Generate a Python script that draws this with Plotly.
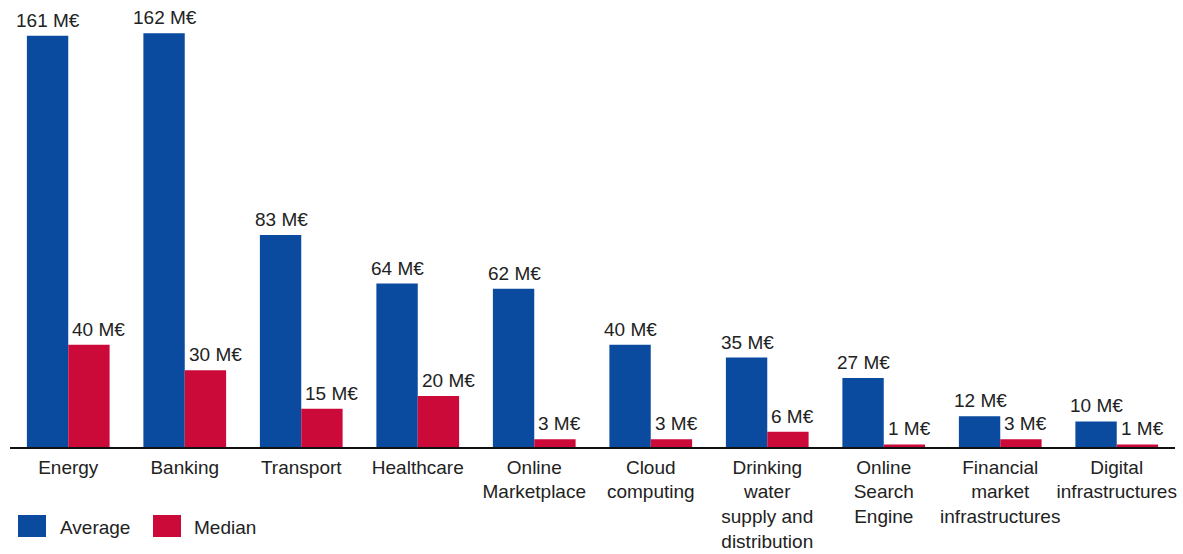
import plotly.graph_objects as go

categories = ["Energy", "Banking", "Transport", "Healthcare", "Online<br>Marketplace",
              "Cloud<br>computing", "Drinking<br>water<br>supply and<br>distribution",
              "Online<br>Search<br>Engine", "Financial<br>market<br>infrastructures",
              "Digital<br>infrastructures"]
average = [161, 162, 83, 64, 62, 40, 35, 27, 12, 10]
median = [40, 30, 15, 20, 3, 3, 6, 1, 3, 1]

BLUE = "#0A4BA0"
RED = "#CC0A3A"
TXT = "#222"
W, H = 1183, 554
FONT = "Liberation Sans, Arial, sans-serif"
FS = 19

fig = go.Figure()
fig.add_trace(go.Bar(x=categories, y=average, name="Average", marker_color=BLUE,
                     marker_line_width=0))
fig.add_trace(go.Bar(x=categories, y=median, name="Median", marker_color=RED,
                     marker_line_width=0))

# value labels (average centred over its bar, median starting at its bar's left edge)
for cat, v in zip(categories, average):
    fig.add_annotation(x=cat, y=v, xref="x", yref="y", text=f"{v} M€", showarrow=False,
                       xanchor="center", yanchor="bottom", xshift=-20, yshift=3,
                       font=dict(size=FS, color=TXT, family=FONT))
for cat, v in zip(categories, median):
    fig.add_annotation(x=cat, y=v, xref="x", yref="y", text=f"{v} M€", showarrow=False,
                       xanchor="left", yanchor="bottom", xshift=2, yshift=3,
                       font=dict(size=FS, color=TXT, family=FONT))

# manual legend
legend_items = [("Average", BLUE, 18, 58), ("Median", RED, 153, 192)]
for name, col, x0, tx in legend_items:
    fig.add_shape(type="rect", xref="paper", yref="paper",
                  x0=x0 / W, x1=(x0 + 28) / W, y0=1 - 537 / H, y1=1 - 515 / H,
                  fillcolor=col, line=dict(width=0))
    fig.add_annotation(xref="paper", yref="paper", x=tx / W, y=1 - 527 / H,
                       text=name, showarrow=False, xanchor="left", yanchor="middle",
                       font=dict(size=FS, color=TXT, family=FONT))

fig.update_layout(
    width=W, height=H, barmode="group", bargap=0.29, bargroupgap=0,
    plot_bgcolor="white", paper_bgcolor="white", showlegend=False,
    margin=dict(l=0, r=0, t=0, b=0),
    font=dict(family=FONT, size=FS, color=TXT),
    xaxis=dict(domain=[10 / W, 1175 / W], showline=True, linecolor="#111", linewidth=1.5,
               ticks="", tickangle=0, tickfont=dict(size=FS, color=TXT),
               ticklabelstandoff=2, automargin=False),
    yaxis=dict(domain=[(H - 447) / H, 1], range=[0, 175], visible=False, showgrid=False,
               automargin=False),
)
fig.write_html("out.html", config={"displayModeBar": False},
               post_script="document.body.style.margin='0';document.body.style.padding='0';")
